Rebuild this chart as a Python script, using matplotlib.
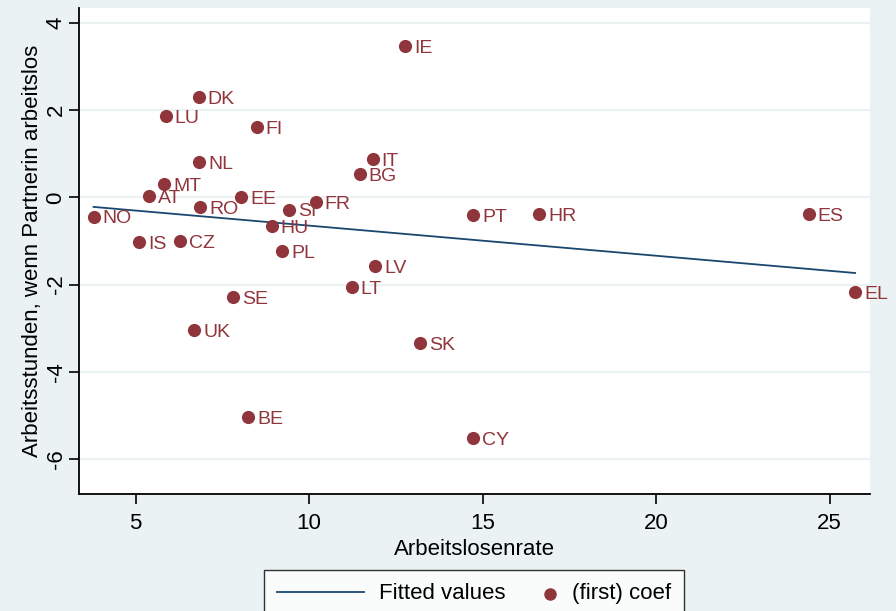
import numpy as np
import matplotlib.pyplot as plt
from matplotlib.legend_handler import HandlerPathCollection

plt.rcParams['font.family'] = ['Liberation Sans', 'DejaVu Sans']

# Data
countries = ['IE', 'DK', 'LU', 'FI', 'NL', 'IT', 'BG', 'MT', 'AT', 'EE', 'RO', 'SI',
             'FR', 'HU', 'NO', 'IS', 'CZ', 'PL', 'LV', 'LT', 'SE', 'UK', 'SK', 'BE',
             'CY', 'PT', 'HR', 'ES', 'EL']
unemployment = [12.76, 6.82, 5.87, 8.49, 6.84, 11.83, 11.46, 5.82, 5.39, 8.04, 6.86, 9.43,
                10.19, 8.92, 3.79, 5.10, 6.29, 9.22, 11.90, 11.23, 7.81, 6.69, 13.19, 8.24,
                14.72, 14.72, 16.62, 24.39, 25.73]
coef = [3.47, 2.29, 1.86, 1.61, 0.81, 0.87, 0.53, 0.31, 0.03, 0.00, -0.22, -0.28,
        -0.10, -0.66, -0.44, -1.03, -1.00, -1.22, -1.57, -2.06, -2.29, -3.05, -3.34, -5.03,
        -5.52, -0.41, -0.38, -0.39, -2.17]

x = np.array(unemployment)
y = np.array(coef)

# linear fit
m, b = np.polyfit(x, y, 1)
x_fit = np.array([x.min(), x.max()])
y_fit = m * x_fit + b

bg = '#EAF2F3'
red = '#90353B'
navy = '#1A476F'


# put the legend marker at the right end of its handle (Stata style)
class RightMarker(HandlerPathCollection):
    def get_xdata(self, legend, xdescent, ydescent, width, height, fontsize):
        xm = [width - xdescent - 0.3 * fontsize]
        return xm, xm


fig = plt.figure(figsize=(8.96, 6.11), dpi=100, facecolor=bg)
ax = fig.add_axes([79/896, 117/611, (870-79)/896, (603-117)/611])
ax.set_facecolor('white')

ax.plot(x_fit, y_fit, color=navy, lw=1.3, label='Fitted values', zorder=2)
pts = ax.scatter(x, y, s=90, color=red, label='(first) coef', zorder=3, linewidths=0)
for c, xi, yi in zip(countries, x, y):
    ax.annotate(c, (xi, yi), xytext=(6.5, -5), textcoords='offset points',
                color=red, fontsize=14, va='baseline', ha='left', zorder=4)

ax.set_xlim(3.37, 26.16)
ax.set_ylim(-6.80, 4.34)
ax.set_xticks([5, 10, 15, 20, 25])
ax.set_yticks([-6, -4, -2, 0, 2, 4])
ax.set_yticklabels(['-6', '-4', '-2', '0', '2', '4'], rotation=90, va='center')
ax.grid(axis='y', color=bg, lw=1.5)
ax.set_axisbelow(True)

for s in ['top', 'right']:
    ax.spines[s].set_visible(False)
for s in ['left', 'bottom']:
    ax.spines[s].set_linewidth(1.3)
ax.tick_params(labelsize=16, length=7, width=1.2)
ax.tick_params(axis='x', pad=7)
ax.tick_params(axis='y', pad=2)

ax.set_xlabel('Arbeitslosenrate', fontsize=16, labelpad=3)
ax.set_ylabel('Arbeitsstunden, wenn Partnerin arbeitslos', fontsize=16, labelpad=1.5)

leg = fig.legend(loc='upper center', bbox_to_anchor=(474/896, 1 - 570/611), ncol=2,
                 fontsize=16, frameon=True, fancybox=False, edgecolor='black',
                 handlelength=3.9, handletextpad=0.68, columnspacing=-1.6,
                 borderpad=0.6, borderaxespad=0, markerscale=0.95,
                 handler_map={pts: RightMarker()})
leg.get_frame().set_linewidth(1.0)

plt.savefig('out.png', dpi=100, facecolor=bg)
